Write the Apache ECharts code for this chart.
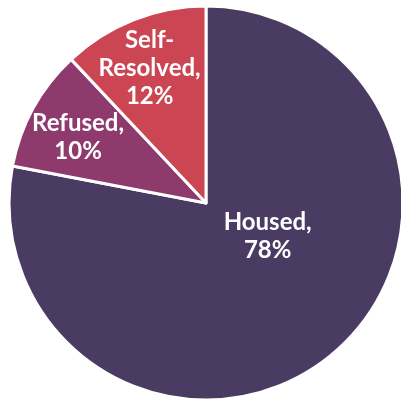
<!DOCTYPE html>
<html><head><meta charset="utf-8">
<script src="https://cdn.jsdelivr.net/npm/echarts@6/dist/echarts.min.js"></script>
<style>html,body{margin:0;padding:0;background:#fff}#c{width:401px;height:402px}</style>
</head><body><div id="c"></div>
<script>
const categories = ["Housed", "Refused", "Self-\nResolved"];
const values = [78, 10, 12];
const colors = ["#4a3b63", "#8e3a6c", "#cc4552"];
const offsets = [[-3, -45], [-39, -17], [-19, -40]];

const chart = echarts.init(document.getElementById('c'), null, {renderer: 'canvas'});
chart.setOption({
  animation: false,
  series: [{
    type: 'pie',
    center: [206, 203],
    radius: 197,
    startAngle: 90,
    clockwise: true,
    avoidLabelOverlap: false,
    labelLayout: {hideOverlap: false},
    itemStyle: {borderColor: '#fff', borderWidth: 3},
    label: {
      show: true, position: 'inside', color: '#fff',
      fontFamily: 'Lato', fontWeight: 'bold', fontSize: 24, lineHeight: 28,
      align: 'center',
      formatter: p => p.name + ',\n' + p.value + '%'
    },
    labelLine: {show: false},
    data: categories.map((c, i) => ({
      name: c, value: values[i],
      itemStyle: {color: colors[i]},
      label: {offset: offsets[i]}
    }))
  }]
});
</script></body></html>
